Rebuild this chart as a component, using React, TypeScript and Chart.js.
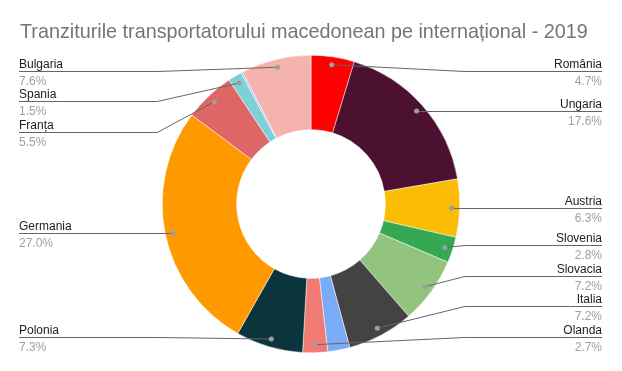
import React, { useEffect, useRef } from "react";
import { Chart, registerables } from "chart.js";

Chart.register(...registerables);

const TITLE = "Tranziturile transportatorului macedonean pe internațional - 2019";

// Slices clockwise from 12 o'clock; empty names are slices shown without a label
const categories = [
  "România", "Ungaria", "Austria", "Slovenia", "Slovacia", "Italia", "",
  "Olanda", "Polonia", "Germania", "Franța", "Spania", "", "Bulgaria",
];
const values = [4.7, 17.6, 6.3, 2.8, 7.2, 7.2, 2.4, 2.7, 7.3, 27.0, 5.5, 1.5, 0.2, 7.6];
const colors = [
  "#ff0000", "#4c1130", "#fbbc04", "#34a853", "#93c47d", "#434343", "#7baaf7",
  "#f07b72", "#0c343d", "#ff9900", "#e06666", "#7fd0d6", "#a4c2f4", "#f5b3ae",
];

const FONT = '"Liberation Sans", Arial, sans-serif';

const sideLabels = {
  id: "sideLabels",
  afterDraw(chart: any) {
    const ctx = chart.ctx as CanvasRenderingContext2D;
    ctx.save();
    ctx.font = `19.8px ${FONT}`;
    ctx.fillStyle = "#757575";
    ctx.textAlign = "left";
    ctx.textBaseline = "alphabetic";
    ctx.fillText(TITLE, 20, 37.5);

    const meta = chart.getDatasetMeta(0);
    const total = values.reduce((a, b) => a + b, 0);
    type Item = { i: number; dx: number; dy: number; right: boolean; cx: number; R: number; ly: number };
    const items: Item[] = [];
    meta.data.forEach((arc: any, i: number) => {
      if (!categories[i]) return;
      const p = arc.getProps(["x", "y", "startAngle", "endAngle", "outerRadius"], true);
      const mid = (p.startAngle + p.endAngle) / 2;
      const r = p.outerRadius - 8;
      items.push({
        i,
        dx: p.x + Math.cos(mid) * r,
        dy: p.y + Math.sin(mid) * r,
        right: Math.cos(mid) >= 0,
        cx: p.x,
        R: p.outerRadius,
        ly: 0,
      });
    });

    const minY = 70.7;
    const maxY = 336.5;
    const gap = 30.5;
    const W = chart.width;
    const leftX = 19;
    const rightX = W - 20;

    [true, false].forEach((side) => {
      const group = items.filter((it) => it.right === side).sort((a, b) => a.dy - b.dy);
      group.forEach((it) => (it.ly = Math.min(maxY, Math.max(minY, it.dy))));
      for (let k = 1; k < group.length; k++) {
        if (group[k].ly < group[k - 1].ly + gap) group[k].ly = group[k - 1].ly + gap;
      }
      for (let k = group.length - 1; k >= 0; k--) {
        const lim = k === group.length - 1 ? maxY : group[k + 1].ly - gap;
        if (group[k].ly > lim) group[k].ly = lim;
      }
    });

    items.forEach((it) => {
      const y = Math.round(it.ly) + 0.5;
      const edgeX = it.right ? rightX : leftX;
      const bendX = it.right ? it.cx + it.R + 5 : it.cx - it.R - 5;
      ctx.strokeStyle = "#666666";
      ctx.lineWidth = 1;
      ctx.beginPath();
      ctx.moveTo(edgeX, y);
      if (Math.abs(it.dy - y) < 1.5) {
        ctx.lineTo(it.dx, y);
      } else {
        ctx.lineTo(bendX, y);
        ctx.lineTo(it.dx, it.dy);
      }
      ctx.stroke();

      ctx.fillStyle = "#9e9e9e";
      ctx.beginPath();
      ctx.arc(it.dx, it.dy, 2.5, 0, Math.PI * 2);
      ctx.fill();

      ctx.font = `12px ${FONT}`;
      ctx.textAlign = it.right ? "right" : "left";
      ctx.fillStyle = "#222222";
      ctx.fillText(categories[it.i], edgeX, y - 4);
      ctx.fillStyle = "#9e9e9e";
      ctx.fillText(((values[it.i] / total) * 100).toFixed(1) + "%", edgeX, y + 13);
    });
    ctx.restore();
  },
};

export default function App() {
  const ref = useRef<HTMLCanvasElement | null>(null);
  useEffect(() => {
    if (!ref.current) return;
    const chart = new Chart(ref.current, {
      type: "doughnut",
      data: {
        labels: categories,
        datasets: [
          {
            data: values,
            backgroundColor: colors,
            borderColor: "#ffffff",
            borderWidth: 0.5,
          },
        ],
      },
      options: {
        responsive: false,
        animation: false,
        devicePixelRatio: 1,
        cutout: "50%",
        events: [],
        layout: { padding: { top: 55, bottom: 18, left: 100, right: 100 } },
        plugins: {
          legend: { display: false },
          title: { display: false },
          tooltip: { enabled: false },
        },
      },
      plugins: [sideLabels],
    });
    return () => chart.destroy();
  }, []);
  return (
    <div style={{ position: "absolute", left: 0, top: 0, width: 622, height: 371, background: "#fff" }}>
      <canvas ref={ref} width={622} height={371} />
    </div>
  );
}
